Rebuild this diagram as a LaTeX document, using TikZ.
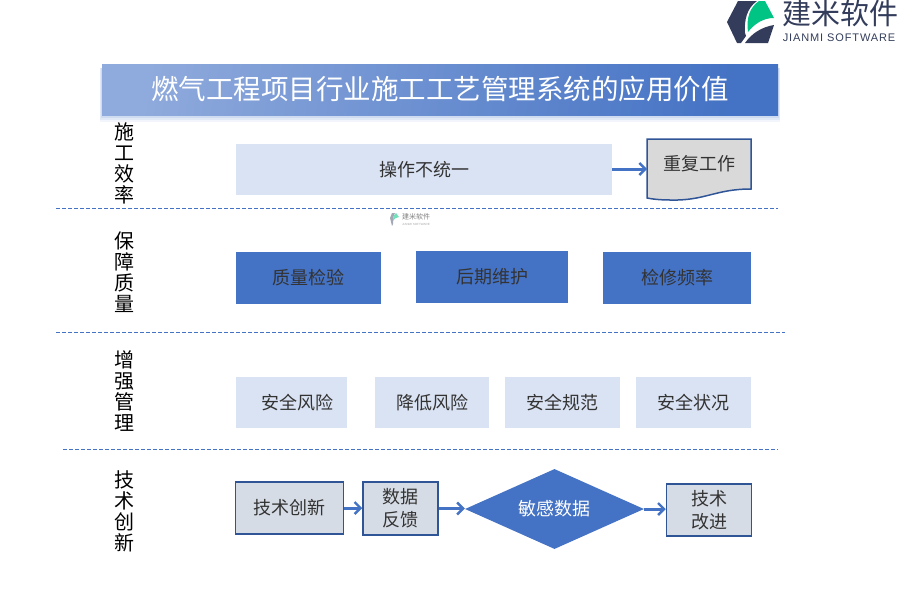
\documentclass[tikz,border=0pt]{standalone}
\usepackage{fontspec}
\usepackage{xcolor}
\setmainfont{Noto Sans CJK SC}
\newfontfamily\latinfont{Liberation Sans}
\usetikzlibrary{arrows.meta,shapes.geometric}
\definecolor{blueA}{HTML}{4472C4}
\definecolor{blueB}{HTML}{8FAADC}
\definecolor{paleA}{HTML}{DAE3F3}
\definecolor{greyA}{HTML}{D6DCE5}
\definecolor{lineA}{HTML}{2F5597}
\definecolor{logoA}{HTML}{333D5B}
\definecolor{logoB}{HTML}{00C483}
\definecolor{inkA}{HTML}{333333}
\tikzset{
boxtext/.style={inner sep=0pt,align=center,text=inkA,font=\fontsize{18}{23}\selectfont},
palebox/.style={boxtext,fill=paleA},
bluebox/.style={boxtext,fill=blueA},
greybox/.style={boxtext,fill=greyA,draw=lineA,line width=1.5pt},
sidetext/.style={inner sep=0pt,align=center,text=black,font=\fontsize{20}{21}\selectfont},
linkarrow/.style={draw=blueA,line width=3pt,-{Straight Barb[length=6pt,width=12pt,line width=2.4pt]}},
sepline/.style={draw=blueA,line width=0.9pt,dash pattern=on 3.5pt off 2.5pt}
}
\begin{document}
\begin{tikzpicture}[x=1pt,y=-1pt]
\useasboundingbox(0,0)rectangle(900,600);
% logo
\fill[logoA](727,22)--(738,1)--(757,1)..controls(747,8)and(744,20)..(745,33)--(746,36)--(741,43)--(737,43)--cycle;
\fill[logoA](745,43)..controls(752,33)and(762,27)..(774,25)--(768,43)--cycle;
\fill[logoB](748,32)..controls(746,18)and(750,7)..(759,1)--(765,1)--(774,18)..controls(764,18)and(755,23)..(748,32)--cycle;
\node[inner sep=0pt,text=logoA,font=\fontsize{29}{29}\selectfont](logotext)at(840,13){建米软件};
\node[inner sep=0pt,text=logoA,font=\latinfont\fontsize{11}{11}\selectfont\addfontfeature{LetterSpace=8}](logosub)at(839,38){JIANMI SOFTWARE};
% title
\foreach \i/\o in {7/0.07,5/0.09,3/0.12,1/0.16}
\fill[blueA,opacity=\o](102-\i/3,68)rectangle(778+\i/3,115+\i);
\node[inner sep=0pt,minimum width=676pt,minimum height=51pt,shading=axis,left color=blueB,right color=blueA,shading angle=80,text=white,font=\fontsize{27.5}{30}\selectfont](title)at(440,89.5){燃气工程项目行业施工工艺管理系统的应用价值};
% side labels
\node[sidetext](effect)at(124,163){施\\工\\效\\率};
\node[sidetext](quality)at(124,272){保\\障\\质\\量};
\node[sidetext](manage)at(124,391){增\\强\\管\\理};
\node[sidetext](tech)at(124,511){技\\术\\创\\新};
% separators
\coordinate(sepa)at(56,208);
\coordinate(sepb)at(778,208);
\coordinate(sepc)at(56,332);
\coordinate(sepd)at(785,332);
\coordinate(sepe)at(63,449);
\coordinate(sepf)at(778,449);
\draw[sepline](sepa)--(sepb);
\draw[sepline](sepc)--(sepd);
\draw[sepline](sepe)--(sepf);
% watermark
\fill[logoA!45](390,218)--(392,213)--(395,213)..controls(393,216)and(393,220)..(393,224)--(392,226)--cycle;
\fill[logoB!55](393,221)..controls(393,217)and(394,214)..(396,213)--(399,217)..controls(396,217)and(394,219)..(393,221)--cycle;
\node[inner sep=0pt,text=gray,font=\fontsize{7}{7}\selectfont](marktext)at(416,217){建米软件};
\node[inner sep=0pt,text=gray!70,font=\latinfont\fontsize{3}{3}\selectfont](marksub)at(416,224){JIANMI SOFTWARE};
% row one
\node[palebox,minimum width=376pt,minimum height=51pt](unify)at(424,169.5){操作不统一};
\filldraw[fill=black!15,draw=lineA,line width=1.5pt](647,139)--(751,139)--(751,189)..controls(715,189)and(705,201)..(670,200)..controls(660,200)and(652,199)..(647,198)--cycle;
\node[boxtext,minimum width=104pt,minimum height=50pt](repeat)at(699,164){重复工作};
\coordinate(repeatin)at(647,169);
\draw[linkarrow](unify.east|-repeatin)--(repeatin);
% row two
\node[bluebox,minimum width=145pt,minimum height=52pt](check)at(308.5,278){质量检验};
\node[bluebox,minimum width=152pt,minimum height=52pt](repair)at(492,277){后期维护};
\node[bluebox,minimum width=148pt,minimum height=52pt](freq)at(677,278){检修频率};
% row three
\node[palebox,minimum width=111pt,minimum height=51pt](safea)at(291.5,402.5){\hspace*{12pt}安全风险};
\node[palebox,minimum width=114pt,minimum height=51pt](safeb)at(432,402.5){降低风险};
\node[palebox,minimum width=115pt,minimum height=51pt](safec)at(562.5,402.5){安全规范};
\node[palebox,minimum width=115pt,minimum height=51pt](safed)at(693.5,402.5){安全状况};
% row four
\node[greybox,minimum width=108pt,minimum height=52pt](innov)at(289.5,508){技术创新};
\node[greybox,minimum width=75pt,minimum height=53pt](feed)at(400.5,508.5){数据\\反馈};
\node[boxtext,shape=diamond,shape aspect=2.2,fill=blueA,text=white,minimum width=179pt,minimum height=80pt](sens)at(554.5,509){敏感数据};
\node[greybox,minimum width=85pt,minimum height=52pt](improve)at(709,510){技术\\改进};
\draw[linkarrow](innov)--(innov-|feed.west);
\draw[linkarrow](feed)--(feed-|sens.west);
\draw[linkarrow](sens)--(sens-|improve.west);
\end{tikzpicture}
\end{document}
